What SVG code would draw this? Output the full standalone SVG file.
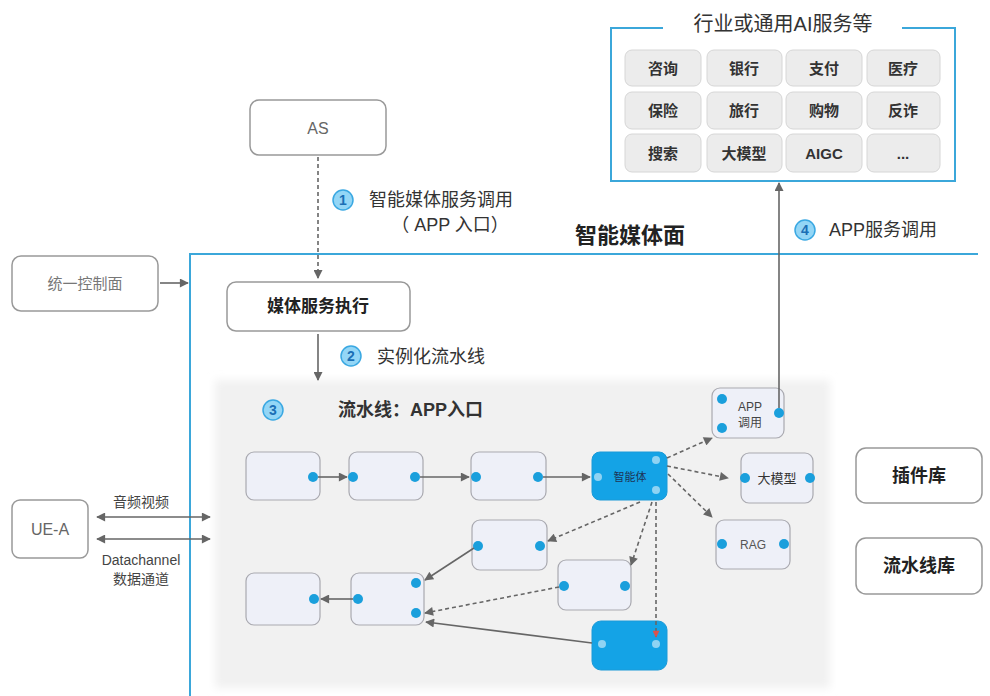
<svg xmlns="http://www.w3.org/2000/svg" width="990" height="696" viewBox="0 0 990 696">
<defs>
<style>
text{font-family:"Liberation Sans","Noto Sans CJK SC",sans-serif;}
.box{fill:#fff;stroke:#999;stroke-width:1.5;}
.tile{fill:#ececec;stroke:#d6d6d6;stroke-width:1;}
.tt{font-size:15px;font-weight:bold;fill:#333;text-anchor:middle;dominant-baseline:central;}
.node{fill:#eef0f8;stroke:#a9a9b0;stroke-width:1.2;}
.bnode{fill:#14a3e6;stroke:#1a9ad8;stroke-width:1;}
.dot{fill:#1a9fdc;}
.ldot{fill:#8fd3f3;}
.ln{stroke:#666;stroke-width:1.6;fill:none;}
.dash{stroke-dasharray:4 3;}
.num{fill:#93d6f6;stroke:#3aa8e2;stroke-width:1.5;}
.numt{font-size:14px;font-weight:bold;fill:#1a6fb5;text-anchor:middle;dominant-baseline:central;}
.lbl{font-size:18px;fill:#333;dominant-baseline:central;}
.bold{font-weight:bold;}
.frame{stroke:#3ba7da;stroke-width:2;fill:none;}
</style>
<marker id="ah" viewBox="0 0 10 10" refX="9" refY="5" markerWidth="10" markerHeight="9" markerUnits="userSpaceOnUse" orient="auto-start-reverse">
<path d="M0,0 L10,5 L0,10 Z" fill="#666"/>
</marker>
<marker id="ahr" viewBox="0 0 10 10" refX="9" refY="5" markerWidth="8" markerHeight="7" markerUnits="userSpaceOnUse" orient="auto">
<path d="M0,0 L10,5 L0,10 Z" fill="#d9534f"/>
</marker>
<filter id="soft" x="-5%" y="-5%" width="110%" height="110%"><feGaussianBlur stdDeviation="4"/></filter>
</defs>
<rect width="990" height="696" fill="#fff"/>

<!-- pipeline background area -->
<rect x="215" y="380" width="615" height="308" fill="#f1f1f1" filter="url(#soft)"/>

<!-- Smart media plane frame -->
<g id="smart-media-plane">
<path class="frame" d="M190,696 L190,254 L978,254"/>
<text x="630" y="235" font-size="22" font-weight="bold" fill="#222" text-anchor="middle" dominant-baseline="central">智能媒体面</text>
</g>

<!-- AI services frame -->
<g id="ai-services">
<path class="frame" d="M663,28 L611,28 L611,181 L955,181 L955,28 L902,28"/>
<text x="783" y="24" font-size="20" fill="#333" text-anchor="middle" dominant-baseline="central">行业或通用AI服务等</text>
<rect class="tile" x="625" y="50" width="76" height="36" rx="7"/><text class="tt" x="663" y="68">咨询</text>
<rect class="tile" x="707" y="50" width="75" height="36" rx="7"/><text class="tt" x="744" y="68">银行</text>
<rect class="tile" x="786" y="50" width="76" height="36" rx="7"/><text class="tt" x="824" y="68">支付</text>
<rect class="tile" x="867" y="50" width="73" height="36" rx="7"/><text class="tt" x="903" y="68">医疗</text>
<rect class="tile" x="625" y="92" width="76" height="37" rx="7"/><text class="tt" x="663" y="110">保险</text>
<rect class="tile" x="707" y="92" width="75" height="37" rx="7"/><text class="tt" x="744" y="110">旅行</text>
<rect class="tile" x="786" y="92" width="76" height="37" rx="7"/><text class="tt" x="824" y="110">购物</text>
<rect class="tile" x="867" y="92" width="73" height="37" rx="7"/><text class="tt" x="903" y="110">反诈</text>
<rect class="tile" x="625" y="134" width="76" height="38" rx="7"/><text class="tt" x="663" y="153">搜索</text>
<rect class="tile" x="707" y="134" width="75" height="38" rx="7"/><text class="tt" x="744" y="153">大模型</text>
<rect class="tile" x="786" y="134" width="76" height="38" rx="7"/><text class="tt" x="824" y="153">AIGC</text>
<rect class="tile" x="867" y="134" width="73" height="38" rx="7"/><text class="tt" x="903" y="153">...</text>
</g>

<g id="as">
<rect class="box" x="250" y="100" width="136" height="55" rx="9"/>
<text x="318" y="128" font-size="16" fill="#666" text-anchor="middle" dominant-baseline="central">AS</text>
</g>

<g id="unified-control">
<rect class="box" x="12" y="256" width="146" height="55" rx="9"/>
<text x="85" y="283" font-size="15" fill="#777" text-anchor="middle" dominant-baseline="central">统一控制面</text>
</g>

<g id="media-exec">
<rect class="box" x="227" y="282" width="183" height="49" rx="9"/>
<text x="318" y="306" font-size="17" font-weight="bold" fill="#222" text-anchor="middle" dominant-baseline="central">媒体服务执行</text>
</g>

<g id="ue-a">
<rect class="box" x="12" y="500" width="76" height="58" rx="8"/>
<text x="50" y="529" font-size="16" fill="#666" text-anchor="middle" dominant-baseline="central">UE-A</text>
</g>

<g id="plugin-lib">
<rect class="box" x="856" y="448" width="126" height="55" rx="10"/>
<text x="919" y="476" font-size="18" font-weight="bold" fill="#222" text-anchor="middle" dominant-baseline="central">插件库</text>
</g>

<g id="pipeline-lib">
<rect class="box" x="856" y="538" width="126" height="56" rx="10"/>
<text x="919" y="566" font-size="18" font-weight="bold" fill="#222" text-anchor="middle" dominant-baseline="central">流水线库</text>
</g>

<!-- step labels -->
<g id="step1">
<circle class="num" cx="343" cy="200" r="10"/><text class="numt" x="343" y="200">1</text>
<text class="lbl" x="369" y="200">智能媒体服务调用</text>
<text class="lbl" x="450" y="225" text-anchor="middle">（ APP 入口）</text>
</g>
<g id="step2">
<circle class="num" cx="351" cy="356" r="10"/><text class="numt" x="351" y="356">2</text>
<text class="lbl" x="377" y="357">实例化流水线</text>
</g>
<g id="step3">
<circle class="num" cx="273" cy="410" r="10"/><text class="numt" x="273" y="410">3</text>
<text class="lbl bold" x="338" y="410">流水线：APP入口</text>
</g>
<g id="step4">
<circle class="num" cx="805" cy="230" r="10"/><text class="numt" x="805" y="230">4</text>
<text class="lbl" x="829" y="230">APP服务调用</text>
</g>

<!-- pipeline nodes -->
<g id="node-a"><rect class="node" x="246" y="452" width="74" height="48" rx="8"/><circle class="dot" cx="313" cy="477" r="5"/></g>
<g id="node-b"><rect class="node" x="349" y="452" width="74" height="48" rx="8"/><circle class="dot" cx="353" cy="477" r="5"/><circle class="dot" cx="415" cy="477" r="5"/></g>
<g id="node-c"><rect class="node" x="471" y="452" width="75" height="48" rx="8"/><circle class="dot" cx="476" cy="477" r="5"/><circle class="dot" cx="538" cy="477" r="5"/></g>
<g id="agent"><rect class="bnode" x="592" y="452" width="75" height="48" rx="8"/><circle class="ldot" cx="598" cy="477" r="4"/><circle class="ldot" cx="656" cy="460" r="4"/><circle class="ldot" cx="656" cy="490" r="4"/>
<text x="630" y="477" font-size="11" fill="#1d3557" text-anchor="middle" dominant-baseline="central">智能体</text></g>
<g id="app-call"><rect class="node" x="712" y="388" width="72" height="50" rx="8"/><circle class="dot" cx="722" cy="399" r="5"/><circle class="dot" cx="722" cy="428" r="5"/><circle class="dot" cx="779" cy="413" r="5"/>
<text x="750" y="407" font-size="12" fill="#444" text-anchor="middle" dominant-baseline="central">APP</text><text x="750" y="423" font-size="12" fill="#444" text-anchor="middle" dominant-baseline="central">调用</text></g>
<g id="llm"><rect class="node" x="741" y="453" width="72" height="50" rx="8"/><circle class="dot" cx="745" cy="478" r="5"/><circle class="dot" cx="810" cy="478" r="5"/>
<text x="777" y="478" font-size="13" fill="#333" text-anchor="middle" dominant-baseline="central">大模型</text></g>
<g id="rag"><rect class="node" x="716" y="520" width="74" height="49" rx="8"/><circle class="dot" cx="722" cy="544" r="5"/><circle class="dot" cx="784" cy="544" r="5"/>
<text x="753" y="545" font-size="12" fill="#555" text-anchor="middle" dominant-baseline="central">RAG</text></g>
<g id="node-d"><rect class="node" x="472" y="520" width="75" height="50" rx="8"/><circle class="dot" cx="478" cy="546" r="5"/><circle class="dot" cx="540" cy="546" r="5"/></g>
<g id="node-e"><rect class="node" x="558" y="560" width="73" height="50" rx="8"/><circle class="dot" cx="564" cy="586" r="5"/><circle class="dot" cx="625" cy="586" r="5"/></g>
<g id="node-f"><rect class="node" x="246" y="573" width="74" height="52" rx="8"/><circle class="dot" cx="314" cy="599" r="5"/></g>
<g id="node-g"><rect class="node" x="351" y="573" width="73" height="52" rx="8"/><circle class="dot" cx="358" cy="599" r="5"/><circle class="dot" cx="416" cy="583" r="5"/><circle class="dot" cx="416" cy="613" r="5"/></g>
<g id="node-h"><rect class="bnode" x="592" y="621" width="75" height="49" rx="9"/><circle class="ldot" cx="602" cy="644" r="4"/><circle class="ldot" cx="656" cy="644" r="4"/></g>

<!-- connectors -->
<g id="connectors">
<line class="ln dash" x1="318" y1="157" x2="318" y2="278" marker-end="url(#ah)"/>
<line class="ln" x1="160" y1="283" x2="188" y2="283" marker-end="url(#ah)"/>
<line class="ln" x1="318" y1="334" x2="318" y2="380" marker-end="url(#ah)"/>
<line class="ln" x1="779" y1="408" x2="779" y2="183" marker-end="url(#ah)"/>
<line class="ln" x1="97" y1="517" x2="210" y2="517" marker-start="url(#ah)" marker-end="url(#ah)"/>
<line class="ln" x1="97" y1="539" x2="210" y2="539" marker-start="url(#ah)" marker-end="url(#ah)"/>
<line class="ln" x1="318" y1="477" x2="347" y2="477" marker-end="url(#ah)"/>
<line class="ln" x1="420" y1="477" x2="469" y2="477" marker-end="url(#ah)"/>
<line class="ln" x1="543" y1="477" x2="590" y2="477" marker-end="url(#ah)"/>
<line class="ln dash" x1="667" y1="458" x2="712" y2="438" marker-end="url(#ah)"/>
<line class="ln dash" x1="667" y1="466" x2="728" y2="478" marker-end="url(#ah)"/>
<line class="ln dash" x1="668" y1="474" x2="712" y2="517" marker-end="url(#ah)"/>
<line class="ln dash" x1="640" y1="502" x2="548" y2="541" marker-end="url(#ah)"/>
<line class="ln dash" x1="652" y1="502" x2="631" y2="565" marker-end="url(#ah)"/>
<line class="ln dash" x1="656" y1="502" x2="656" y2="637" stroke-dasharray="3 3" marker-end="url(#ahr)"/>
<line class="ln" x1="474" y1="548" x2="425" y2="580" marker-end="url(#ah)"/>
<line class="ln dash" x1="559" y1="587" x2="425" y2="613" marker-end="url(#ah)"/>
<line class="ln" x1="592" y1="643" x2="426" y2="622" marker-end="url(#ah)"/>
<line class="ln" x1="353" y1="599" x2="321" y2="599" marker-end="url(#ah)"/>
</g>

<g id="ue-labels">
<text x="141" y="502" font-size="14" fill="#444" text-anchor="middle" dominant-baseline="central">音频视频</text>
<text x="141" y="560" font-size="14" fill="#444" text-anchor="middle" dominant-baseline="central">Datachannel</text>
<text x="141" y="579" font-size="14" fill="#444" text-anchor="middle" dominant-baseline="central">数据通道</text>
</g>
</svg>
